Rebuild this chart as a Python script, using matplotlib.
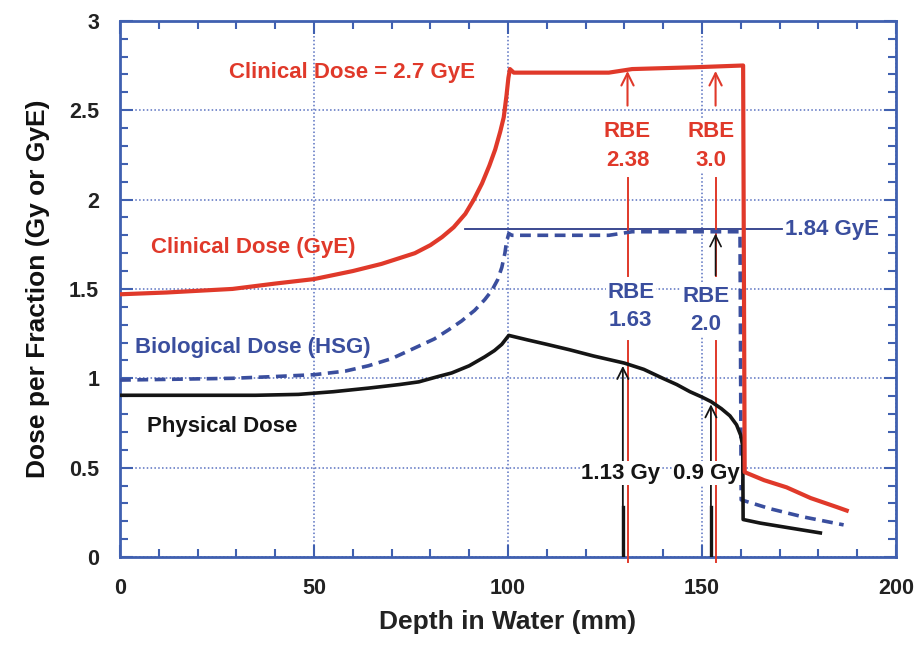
import matplotlib
matplotlib.use('Agg')
import matplotlib.pyplot as plt
from matplotlib.ticker import MultipleLocator

plt.rcParams['font.family'] = ['Liberation Sans', 'DejaVu Sans']
plt.rcParams['font.weight'] = 'bold'

# curves (depth in mm, dose per fraction)
clin_depth = [0, 12, 29, 40, 50, 60, 67.4, 76, 80, 83, 86, 89, 91.2, 93.3, 95.2, 96.7, 98, 98.9,
              99.6, 100.1, 100.5, 101.5, 126, 129, 132, 148, 160.6, 161.0, 166, 171.8, 178, 184.7, 187.3]
clin_dose = [1.47, 1.48, 1.50, 1.53, 1.555, 1.60, 1.64, 1.70, 1.745, 1.79, 1.845, 1.92, 2.00, 2.09, 2.19, 2.28, 2.38, 2.46,
             2.58, 2.68, 2.73, 2.71, 2.71, 2.72, 2.73, 2.74, 2.75, 0.475, 0.43, 0.39, 0.33, 0.28, 0.26]

bio_depth = [0, 15, 29, 40, 50, 58, 64, 70, 76, 81, 84.6, 88, 91.4, 94, 95.8, 97.3, 98.4, 99.2, 99.6,
             100.2, 101, 126, 132, 159.8, 160.1, 167.6, 176, 186.5]
bio_dose = [0.99, 0.995, 1.00, 1.01, 1.02, 1.04, 1.07, 1.11, 1.17, 1.22, 1.27, 1.32, 1.38, 1.44, 1.49, 1.55, 1.62, 1.70, 1.76,
            1.81, 1.80, 1.80, 1.82, 1.82, 0.32, 0.27, 0.225, 0.18]

phys_depth = [0, 35, 46, 55, 64, 72, 77, 82, 85.5, 90, 94, 96.5, 98.4, 100.2, 105, 110, 115.8, 122, 130, 135,
              139.9, 143.5, 146.9, 150, 152.3, 155, 157.2, 158.9, 160, 160.5, 160.6, 165, 172, 180.5]
phys_dose = [0.905, 0.905, 0.91, 0.925, 0.945, 0.965, 0.98, 1.01, 1.03, 1.07, 1.12, 1.155, 1.19, 1.24, 1.215, 1.19, 1.16, 1.125, 1.085, 1.05,
             1.00, 0.965, 0.925, 0.895, 0.87, 0.83, 0.79, 0.74, 0.68, 0.62, 0.21, 0.19, 0.165, 0.135]

# annotation positions
rbe_x = [130.8, 153.5]
rbe_clin = ['RBE\n2.38', 'RBE\n3.0']
rbe_bio = ['RBE\n1.63', 'RBE\n2.0']
rbe_clin_x = [130.8, 152.3]
rbe_bio_x = [131.6, 151.0]
rbe_bio_y = [1.40, 1.38]
phys_arrow_x = [129.6, 152.3]
phys_arrow_y = [1.085, 0.87]
phys_labels = ['1.13 Gy', '0.9 Gy']
phys_label_x = [129.0, 151.2]
gye_line_y = 1.835

red = '#e0392a'
blue = '#3a4e9e'
navy = '#2c3a88'
axblue = '#4060b0'
gridblue = '#5870c0'
black = '#151515'

fig = plt.figure(figsize=(9.14, 6.5), dpi=100)
ax = fig.add_axes([0.1313, 0.143, 0.849, 0.825])

ax.plot(clin_depth, clin_dose, color=red, lw=3.0, zorder=5)
ax.plot(bio_depth, bio_dose, color=blue, lw=2.6, dashes=(3, 1.8), zorder=4)
ax.plot(phys_depth, phys_dose, color=black, lw=2.6, zorder=4)

# 1.84 GyE reference line
ax.plot([89, 170.5], [gye_line_y, gye_line_y], color=navy, lw=1.3, zorder=3)
ax.text(171.3, gye_line_y, '1.84 GyE', color=blue, fontsize=16, va='center', ha='left')

# red arrows to clinical plateau and thin red lines
for x in rbe_x:
    ax.annotate('', xy=(x, 2.735), xytext=(x, 2.51),
                arrowprops=dict(arrowstyle='->', color=red, lw=1.5, mutation_scale=22), zorder=6)
    ax.plot([x, x], [2.12, 1.57], color=red, lw=1.4, zorder=3)
    ax.plot([x, x], [1.21, -0.03], color=red, lw=1.4, zorder=3, clip_on=False)

# black arrow to 1.84 line
ax.annotate('', xy=(rbe_x[1], 1.825), xytext=(rbe_x[1], 1.56),
            arrowprops=dict(arrowstyle='->', color=black, lw=1.2, mutation_scale=20), zorder=6)

# black arrows to physical dose
for x, y in zip(phys_arrow_x, phys_arrow_y):
    ax.annotate('', xy=(x, y), xytext=(x, 0),
                arrowprops=dict(arrowstyle='->', color=black, lw=1.3, mutation_scale=20), zorder=6)
    ax.plot([x, x], [0, 0.28], color=black, lw=2.4, zorder=6)

box = dict(facecolor='white', edgecolor='none', pad=1.0)
for x, s in zip(rbe_clin_x, rbe_clin):
    ax.text(x, 2.30, s, color=red, fontsize=16, ha='center', va='center', linespacing=1.45,
            bbox=box, zorder=7)
for x, y, s in zip(rbe_bio_x, rbe_bio_y, rbe_bio):
    ax.text(x, y, s, color=blue, fontsize=16, ha='center', va='center', linespacing=1.45,
            bbox=box, zorder=7)
for x, s in zip(phys_label_x, phys_labels):
    ax.text(x, 0.47, s, color=black, fontsize=16, ha='center', va='center', bbox=box, zorder=7)

ax.text(59.8, 2.71, 'Clinical Dose = 2.7 GyE', color=red, fontsize=16, ha='center', va='center')
ax.text(8.0, 1.73, 'Clinical Dose (GyE)', color=red, fontsize=16, ha='left', va='center')
ax.text(3.9, 1.17, 'Biological Dose (HSG)', color=blue, fontsize=16, ha='left', va='center')
ax.text(7.0, 0.73, 'Physical Dose', color=black, fontsize=16, ha='left', va='center')

ax.set_xlim(0, 200)
ax.set_ylim(0, 3)
ax.set_xticks([0, 50, 100, 150, 200])
ax.set_yticks([0, 0.5, 1, 1.5, 2, 2.5, 3])
ax.set_yticklabels(['0', '0.5', '1', '1.5', '2', '2.5', '3'])
ax.xaxis.set_minor_locator(MultipleLocator(10))
ax.yaxis.set_minor_locator(MultipleLocator(0.1))
ax.tick_params(which='both', direction='in', top=True, right=True, color=axblue, width=1.5,
               labelsize=15.5, pad=15, labelcolor='#222222')
ax.tick_params(which='major', length=9)
ax.tick_params(which='minor', length=6)
ax.grid(which='major', color=gridblue, linestyle=(0, (1, 1.5)), lw=1.1)
for sp in ax.spines.values():
    sp.set_color(axblue)
    sp.set_linewidth(2)

ax.set_xlabel('Depth in Water (mm)', fontsize=19, fontweight='bold', labelpad=8, color='#222222')
ax.set_ylabel('Dose per Fraction (Gy or GyE)', fontsize=19, fontweight='bold', labelpad=14, color='#111111')

fig.savefig('out.png', dpi=100)
